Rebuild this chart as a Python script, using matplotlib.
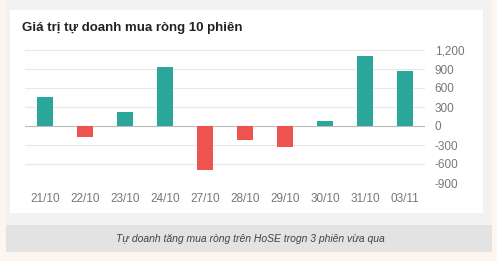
import matplotlib
matplotlib.use("Agg")
import matplotlib.pyplot as plt
from matplotlib.patches import Rectangle

plt.rcParams["font.family"] = ["Liberation Sans", "DejaVu Sans"]

# net buying by proprietary traders, 10 sessions (billion VND)
dates = ["21/10", "22/10", "23/10", "24/10", "27/10",
         "28/10", "29/10", "30/10", "31/10", "03/11"]
values = [455, -170, 220, 930, -690, -220, -330, 80, 1100, 870]
yticks = [-900, -600, -300, 0, 300, 600, 900, 1200]
ytick_labels = ["-900", "-600", "-300", "0", "300", "600", "900", "1,200"]

title = "Giá trị tự doanh mua ròng 10 phiên"
caption = "Tự doanh tăng mua ròng trên HoSE trogn 3 phiên vừa qua"

W, H = 497, 261
fig = plt.figure(figsize=(W / 100, H / 100), dpi=100)
fig.patch.set_facecolor("#fcf5f0")

def box(x0, y0, x1, y1, color):
    # pixel coords, top-left origin
    fig.patches.append(Rectangle((x0 / W, 1 - y1 / H), (x1 - x0) / W, (y1 - y0) / H,
                                 transform=fig.transFigure, facecolor=color,
                                 edgecolor="none", zorder=-1))

box(6, 0, 492, 225, "#f2f2f2")
box(10, 10, 483, 213, "#ffffff")
box(6, 225, 492, 252, "#e3e3e3")

fig.text(22 / W, 1 - 28 / H, title, fontsize=9.5, fontweight="bold",
         color="#222222", va="center", ha="left")
fig.text(250 / W, 1 - 239 / H, caption, fontsize=7.5, style="italic",
         color="#444444", va="center", ha="center")

ax = fig.add_axes([25 / W, 1 - 183 / H, 400 / W, 133 / H])
ax.set_zorder(2)
ax.set_facecolor("none")
colors = ["#2ba69a" if v >= 0 else "#ef5350" for v in values]
ax.bar(range(len(dates)), values, width=0.42, color=colors, zorder=3)

ax.set_xlim(-0.5, len(dates) - 0.5)
ax.set_ylim(-900, 1200)
ax.set_yticks(yticks)
for y in yticks:
    ax.axhline(y, color="#bbbbbb" if y == 0 else "#e8e8e8", lw=0.8, zorder=1)

ax.yaxis.tick_right()
ax.set_yticklabels(ytick_labels)
ax.set_xticks(range(len(dates)))
ax.set_xticklabels(dates)
ax.tick_params(axis="both", length=0, labelsize=8.5, labelcolor="#777777")
ax.tick_params(axis="y", pad=7)
ax.tick_params(axis="x", pad=7)
for s in ax.spines.values():
    s.set_visible(False)

plt.savefig("out.png", dpi=100, facecolor=fig.get_facecolor())
